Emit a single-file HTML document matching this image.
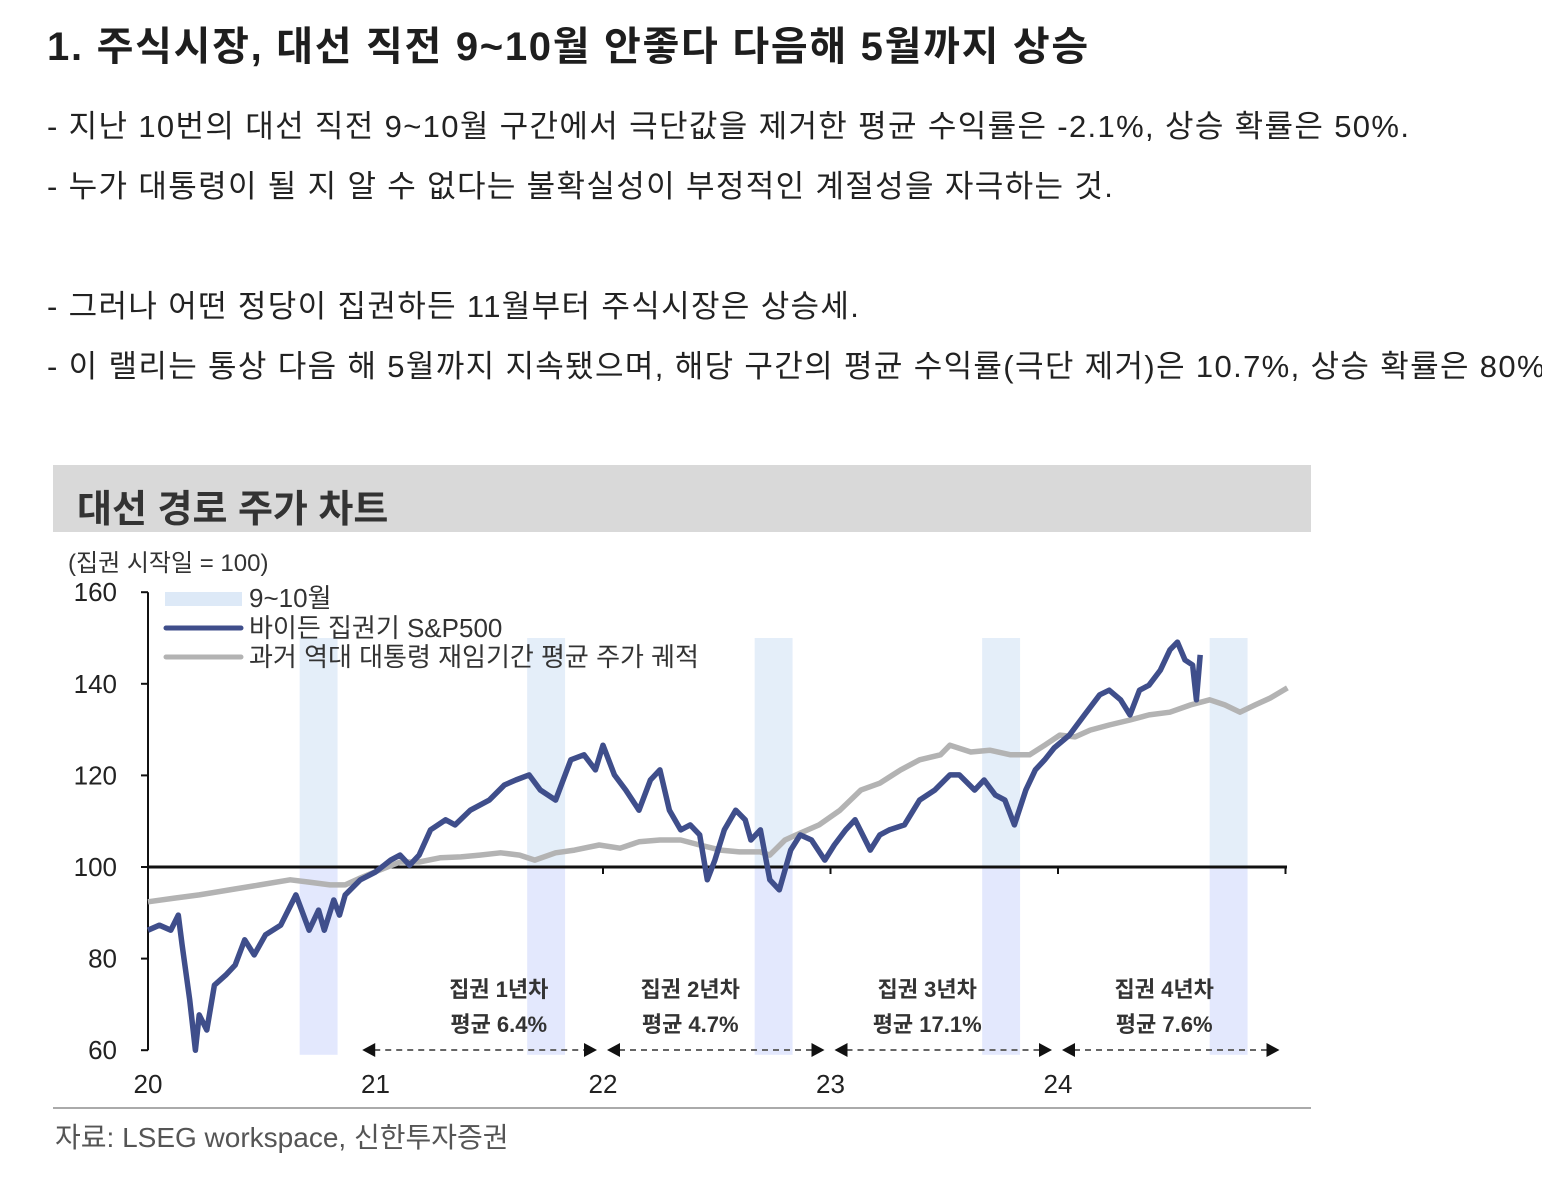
<!DOCTYPE html>
<html><head><meta charset="utf-8">
<style>
body{margin:0;width:1542px;height:1200px;overflow:hidden;background:#fff;font-family:"Liberation Sans","Noto Sans CJK KR",sans-serif;color:#222;position:relative}
.t{position:absolute;white-space:nowrap}
.b{font-size:31px;letter-spacing:1.35px}
</style></head><body>
<div class="t" style="left:47px;top:14px;font-size:40px;letter-spacing:1.7px;font-weight:bold;color:#1e1e1e">1. 주식시장, 대선 직전 9~10월 안좋다 다음해 5월까지 상승</div>
<div class="t b" style="left:47px;top:101px">- 지난 10번의 대선 직전 9~10월 구간에서 극단값을 제거한 평균 수익률은 -2.1%, 상승 확률은 50%.</div>
<div class="t b" style="left:47px;top:161px">- 누가 대통령이 될 지 알 수 없다는 불확실성이 부정적인 계절성을 자극하는 것.</div>
<div class="t b" style="left:47px;top:281px">- 그러나 어떤 정당이 집권하든 11월부터 주식시장은 상승세.</div>
<div class="t b" style="left:47px;top:341px">- 이 랠리는 통상 다음 해 5월까지 지속됐으며, 해당 구간의 평균 수익률(극단 제거)은 10.7%, 상승 확률은 80%.</div>
<div style="position:absolute;left:53px;top:465px;width:1258px;height:67px;background:#d9d9d9"></div>
<div class="t" style="left:77px;top:478px;font-size:38px;font-weight:bold;color:#333">대선 경로 주가 차트</div>
<svg id="chart" style="position:absolute;left:0;top:0" width="1542" height="1200"></svg>
<div class="t" style="left:55px;top:1116px;font-size:28px;color:#555">자료: LSEG workspace, 신한투자증권</div>
<script>
const bidenMonths=[0,0.6,1.2,1.6,1.8,2.2,2.5,2.7,3.1,3.5,4.1,4.6,5.1,5.6,6.2,7.0,7.8,8.2,8.5,9.0,9.3,9.8,10.1,10.4,11.2,12.0,12.8,13.3,13.8,14.3,14.9,15.7,16.2,17.0,18.0,18.8,19.4,20.1,20.7,21.5,22.3,23.0,23.6,24.0,24.6,25.2,25.9,26.5,27.0,27.5,28.1,28.6,29.1,29.5,29.9,30.4,31.0,31.5,31.8,32.3,32.8,33.3,33.9,34.4,35.0,35.7,36.2,36.8,37.3,38.1,38.6,39.1,39.9,40.7,41.5,42.3,42.8,43.6,44.1,44.7,45.2,45.7,46.3,46.8,47.3,47.8,48.6,49.4,50.2,50.7,51.3,51.8,52.3,52.8,53.4,53.9,54.3,54.7,55.1,55.3,55.5];
const bidenValues=[86.2,87.3,86.2,89.5,83.0,71.0,60.0,67.7,64.4,74.2,76.4,78.6,84.1,80.8,85.2,87.3,93.9,89.5,86.2,90.6,86.2,92.8,89.5,93.9,97.2,98.9,101.5,102.6,100.4,102.6,108.1,110.3,109.2,112.4,114.6,117.9,119.0,120.1,116.8,114.6,123.4,124.5,121.2,126.6,120.1,116.8,112.4,119.0,121.2,112.4,108.1,109.2,107.0,97.2,101.5,108.1,112.4,110.3,105.9,108.1,97.2,95.0,103.7,107.0,105.9,101.5,104.8,108.1,110.3,103.7,107.0,108.1,109.2,114.6,116.8,120.1,120.1,116.8,119.0,115.7,114.6,109.2,116.8,121.2,123.4,126.0,128.8,133.2,137.6,138.6,136.5,133.2,138.6,139.7,143.0,147.4,149.1,145.2,144.1,136.5,146.3];
const avgMonths=[0,1.4,2.7,4.3,5.9,7.5,8.5,9.6,10.4,11.2,12.2,13.3,14.3,15.4,16.5,17.5,18.6,19.6,20.4,21.5,22.5,23.8,24.9,25.9,27.0,28.1,29.1,30.2,31.2,32.3,32.8,33.6,34.4,35.4,36.5,37.6,38.6,39.7,40.7,41.8,42.3,43.4,44.4,45.5,46.5,47.3,48.1,48.9,49.7,50.7,51.8,52.8,53.9,55.0,56.0,56.8,57.6,58.4,59.2,60.1];
const avgValues=[92.4,93.2,93.9,95.0,96.1,97.2,96.7,96.1,96.1,97.6,99.3,101.1,101.1,102.0,102.2,102.6,103.1,102.6,101.5,103.1,103.7,104.8,104.1,105.5,105.9,105.9,104.8,103.7,103.3,103.3,102.6,105.9,107.4,109.2,112.4,116.8,118.3,121.2,123.4,124.5,126.6,125.1,125.5,124.5,124.5,126.6,128.8,128.4,129.9,131.0,132.1,133.2,133.8,135.4,136.5,135.4,133.8,135.4,136.9,139.1];
const bandStarts=[8,20,32,44,56];
const yTicks=[60,80,100,120,140,160];
const xTickLabels=["20","21","22","23","24"];
const periodLabels=["집권 1년차","집권 2년차","집권 3년차","집권 4년차"];
const periodReturns=["평균 6.4%","평균 4.7%","평균 17.1%","평균 7.6%"];
const periodLabelMonths=[18.5,28.6,41.1,53.6];

const NS="http://www.w3.org/2000/svg";
const svg=document.getElementById('chart');
const X=m=>148+m*227.5/12;
const Y=v=>867-(v-100)*4.58;
function mk(tag,attrs){const e=document.createElementNS(NS,tag);for(const k in attrs)e.setAttribute(k,attrs[k]);svg.appendChild(e);return e;}
function txt(s,x,y,size,anchor,weight,fill){const e=mk('text',{x:x,y:y,'font-size':size,'text-anchor':anchor,'font-weight':weight,fill:fill,'font-family':'"Liberation Sans","Noto Sans CJK KR",sans-serif'});e.textContent=s;return e;}

bandStarts.forEach((b,i)=>{
  const r1=mk('rect',{x:X(b),y:Y(150),width:X(b+2)-X(b),height:Y(100)-Y(150),fill:'#e4eef9'});
  
  
  const r2=mk('rect',{x:X(b),y:Y(100),width:X(b+2)-X(b),height:Y(59)-Y(100),fill:'#e3e8fd'});
  
  
});
const ya=mk('line',{x1:148,y1:Y(160),x2:148,y2:Y(60),stroke:'#111','stroke-width':2});


yTicks.forEach(v=>{
  mk('line',{x1:141,y1:Y(v),x2:148,y2:Y(v),stroke:'#111','stroke-width':2});
  const t=txt(String(v),117,Y(v)+9,26,'end','normal','#222');
  
  
});
const yt=txt('(집권 시작일 = 100)',68,571,24,'start','normal','#333');


const xa=mk('line',{x1:148,y1:Y(100),x2:1287,y2:Y(100),stroke:'#111','stroke-width':3});


xTickLabels.forEach((l,i)=>{
  mk('line',{x1:X(12*(i+1)),y1:Y(100),x2:X(12*(i+1)),y2:Y(100)+7,stroke:'#111','stroke-width':2});
  const t=txt(l,X(12*i),1093,26,'middle','normal','#222');
  
  
});
function path(ms,vs,color,name){
  const d=ms.map((m,i)=>(i?'L':'M')+X(m).toFixed(1)+','+Y(vs[i]).toFixed(1)).join('');
  const p=mk('path',{d:d,fill:'none',stroke:color,'stroke-width':5.5,'stroke-linejoin':'round'});
  
  
}
path(avgMonths,avgValues,'#b3b3b3','historical-average-line');
path(bidenMonths,bidenValues,'#3f4e8b','biden-sp500-line');
periodLabels.forEach((l,i)=>{
  const ax0=i==0?X(11.3):X(12*(i+1))+4, ax1=X(12*(i+2))-6;
  const ln=mk('line',{x1:ax0+12,y1:1050,x2:ax1-12,y2:1050,stroke:'#666','stroke-width':2,'stroke-dasharray':'6,5'});
  
  
  mk('path',{d:`M${ax0},1050 l13,-7 v14z`,fill:'#111'});
  mk('path',{d:`M${ax1},1050 l-13,-7 v14z`,fill:'#111'});
  const cx=X(periodLabelMonths[i]);
  const a=txt(l,cx,997,22,'middle','bold','#333');
  
  
  const b=txt(periodReturns[i],cx,1032,22,'middle','bold','#333');
  
  
});
const l1=mk('rect',{x:165,y:592,width:77,height:14,fill:'#dde9f7'});


mk('line',{x1:166,y1:628,x2:241,y2:628,stroke:'#3f4e8b','stroke-width':5,'stroke-linecap':'round'});
mk('line',{x1:166,y1:657,x2:241,y2:657,stroke:'#b3b3b3','stroke-width':5,'stroke-linecap':'round'});
[['9~10월',607,'legend-band'],['바이든 집권기 S&P500',637,'legend-biden'],['과거 역대 대통령 재임기간 평균 주가 궤적',666,'legend-average']].forEach(a=>{
  const t=txt(a[0],249,a[1],26,'start','normal','#333');
  
  
});
const rule=mk('line',{x1:53,y1:1108,x2:1311,y2:1108,stroke:'#aaa','stroke-width':2});


</script>
</body></html>
